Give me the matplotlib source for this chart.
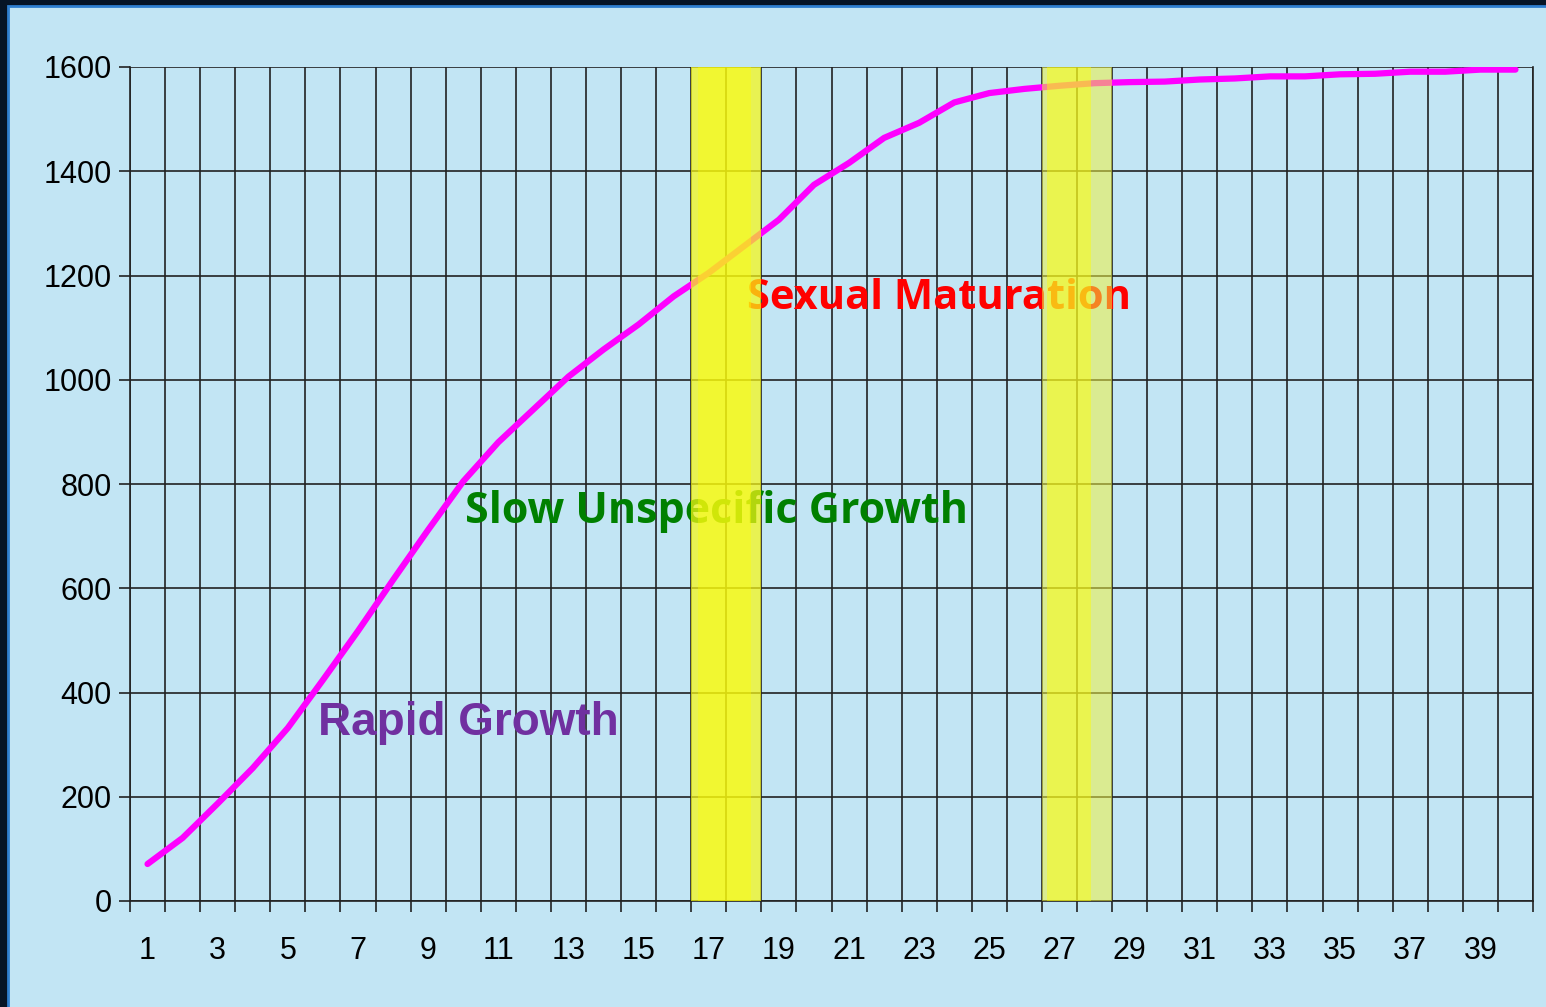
import matplotlib
matplotlib.use("Agg")
import matplotlib.pyplot as plt
from matplotlib.patches import Rectangle
import numpy as np

# ---- data ----
categories = list(range(1, 41))
values = [71, 121, 187, 255, 332, 424, 518, 616, 712, 805,
          880, 943, 1006, 1058, 1106, 1160, 1205, 1256, 1307, 1374,
          1416, 1464, 1493, 1532, 1550, 1558, 1564, 1569, 1571, 1572,
          1576, 1578, 1582, 1582, 1586, 1587, 1591, 1591, 1595, 1595]
x_tick_labels = [str(v) for v in range(1, 41, 2)]
y_ticks = list(range(0, 1601, 200))
highlight_categories = [(17, 18), (27, 28)]
phase_labels = ["Rapid Growth", "Slow Unspecific Growth", "Sexual Maturation"]

W, H = 1546, 1007
fig = plt.figure(figsize=(W / 100, H / 100), dpi=100)
fig.patch.set_facecolor("#061426")
bg = "#c2e5f4"
fig.add_artist(Rectangle((8 / W, -0.01), 1.0, 1.01 - 6 / H, transform=fig.transFigure,
                         facecolor=bg, edgecolor="#2f7fd0", linewidth=2, zorder=0))

ax = fig.add_axes([130 / W, (H - 901) / H, 1403 / W, 834 / H])
ax.set_facecolor(bg)

ax.plot(categories, values, color="#ff00ff", linewidth=4.5, solid_capstyle="round",
        solid_joinstyle="round", zorder=3)

ax.set_xlim(0.5, 40.5)
ax.set_ylim(0, 1600)

# x: boundaries as major ticks (grid), labels at odd category centres
boundaries = np.arange(0.5, 41, 1.0)
ax.set_xticks(boundaries)
ax.set_xticklabels([])
ax.set_xticks(list(range(1, 41, 2)), minor=True)
ax.set_xticklabels(x_tick_labels, minor=True)
ax.set_yticks(y_ticks)
ax.set_yticklabels([str(v) for v in y_ticks])

ax.tick_params(axis="x", which="major", length=8, width=1.2, color="#222222", direction="out")
ax.tick_params(axis="x", which="minor", length=0, pad=25, labelsize=22)
ax.tick_params(axis="y", which="major", length=8, width=1.2, color="#222222", pad=5, labelsize=22)
for lab in ax.get_xticklabels(minor=True) + ax.get_yticklabels():
    lab.set_fontfamily("Liberation Sans")

ax.grid(True, which="major", color="#222222", linewidth=1.2)
ax.set_axisbelow(True)
for side in ["left", "right", "top", "bottom"]:
    ax.spines[side].set_color("#222222")
    ax.spines[side].set_linewidth(1.2)
ax.spines["top"].set_visible(False)

# phase labels
ax.text(5.86, 318, phase_labels[0], color="#7030a0", fontsize=33, fontweight="bold",
        family="Liberation Sans", ha="left", va="baseline", zorder=4)
ax.text(10.05, 725, phase_labels[1], color="#008000", fontsize=31, fontweight="bold",
        family="Open Sans", ha="left", va="baseline", zorder=4)
ax.text(18.09, 1136, phase_labels[2], color="#ff0000", fontsize=30, fontweight="bold",
        family="Open Sans", ha="left", va="baseline", zorder=4)

# yellow highlighter bands
(a1, b1), (a2, b2) = highlight_categories
ax.axvspan(a1 - 0.5, b1 + 0.5, color="#f8f814", alpha=0.72, lw=0, zorder=5)
ax.axvspan(a1 - 0.3, b1 + 0.2, color="#ffff00", alpha=0.4, lw=0, zorder=5)
ax.axvspan(a2 - 0.5, b2 + 0.5, color="#eef040", alpha=0.55, lw=0, zorder=5)
ax.axvspan(a2 - 0.35, a2 + 0.9, color="#ffff00", alpha=0.45, lw=0, zorder=5)

fig.savefig("out.png", dpi=100, facecolor=fig.get_facecolor())
